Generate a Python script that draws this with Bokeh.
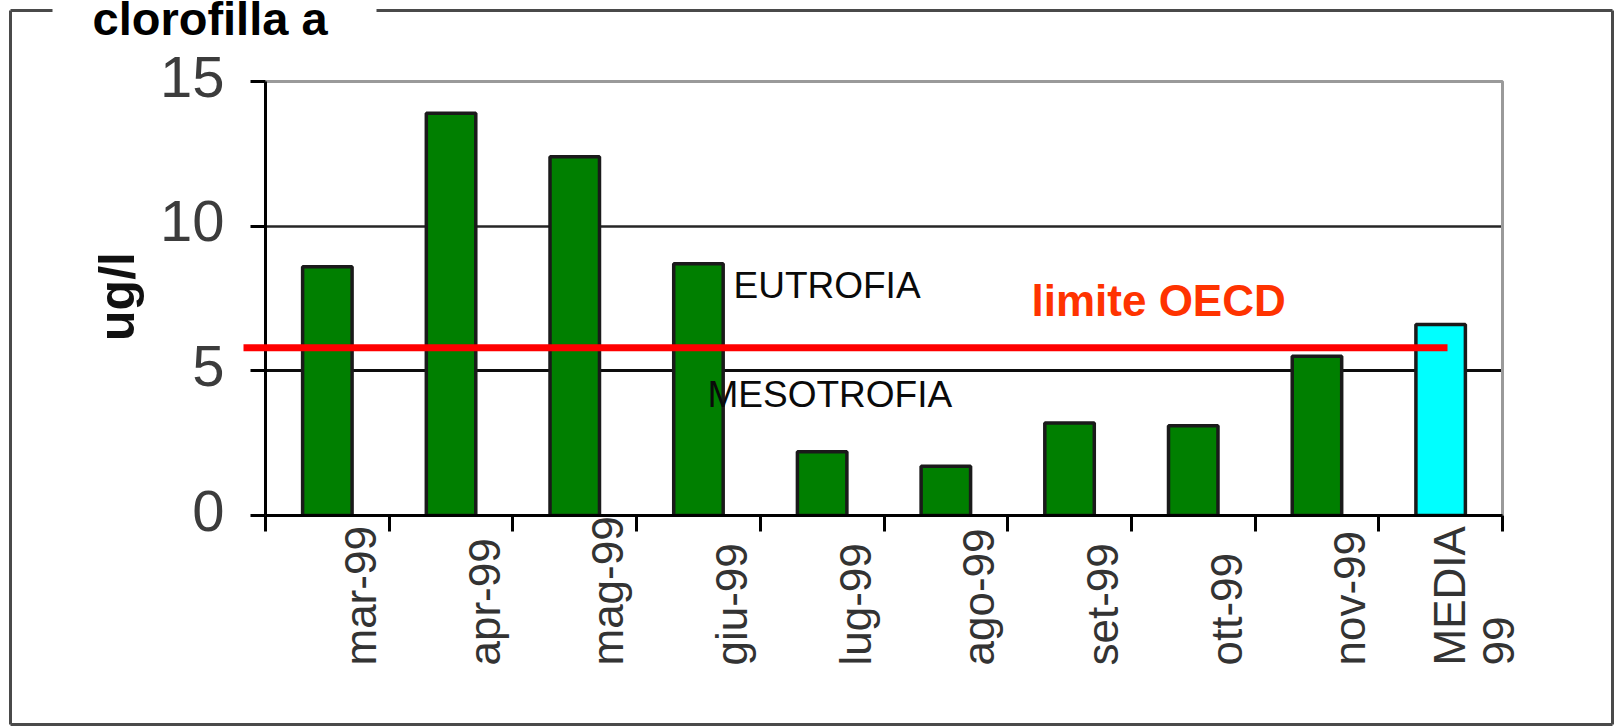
import math

from bokeh.core.properties import value
from bokeh.embed import file_html
from bokeh.models import ColumnDataSource, FixedTicker, Grid, LinearAxis, Range1d
from bokeh.plotting import figure
from bokeh.resources import INLINE

# ---- data -------------------------------------------------------------
categories = ["mar-99", "apr-99", "mag-99", "giu-99", "lug-99",
              "ago-99", "set-99", "ott-99", "nov-99", "MEDIA 99"]
tick_labels = ["mar-99", "apr-99", "mag-99", "giu-99", "lug-99",
               "ago-99", "set-99", "ott-99", "nov-99", "MEDIA\n99"]
chlorophyll = [8.6, 13.9, 12.4, 8.7, 2.2, 1.7, 3.2, 3.1, 5.5, 6.6]
y_ticks = [0, 5, 10, 15]
oecd_limit = 5.8

# ---- layout (canvas pixels) ------------------------------------------
W, H = 1615, 728
FRAME_L, FRAME_R, FRAME_T, FRAME_B = 265, 1502, 81, 515
Y_MAX = 15
N = len(categories)
SLOT_W = (FRAME_R - FRAME_L) / N
PXU = (FRAME_B - FRAME_T) / Y_MAX
FONT = value("Liberation Sans")

# each category occupies one unit slot on the x scale; bars sit mid-slot
slot_centers = [i + 0.5 for i in range(N)]


def sx_to_x(px):
    return (px - FRAME_L) / SLOT_W


def sy_to_y(py):
    return (FRAME_B - py) / PXU


p = figure(width=W, height=H, x_range=Range1d(0, N),
           y_range=Range1d(0, Y_MAX), x_axis_type=None, y_axis_type=None,
           output_backend="svg", toolbar_location=None,
           min_border_left=FRAME_L, min_border_right=W - FRAME_R,
           min_border_top=FRAME_T, min_border_bottom=H - FRAME_B)
p.outline_line_color = None
p.background_fill_color = "white"
p.border_fill_color = "white"

# horizontal grid lines
p.add_layout(Grid(dimension=1, ticker=FixedTicker(ticks=[10]),
                  grid_line_color="#262626", grid_line_width=2.5))
p.add_layout(Grid(dimension=1, ticker=FixedTicker(ticks=[5]),
                  grid_line_color="#0d0d0d", grid_line_width=3))

# light border on the top and right of the plot area
p.line(x=[0, N, N], y=[Y_MAX, Y_MAX, 0], line_color="#9a9a9a",
       line_width=3, level="guide")

# axes: tick marks only, labels drawn separately
yax = LinearAxis(ticker=FixedTicker(ticks=y_ticks),
                 major_label_text_color=None,
                 axis_line_color="black", axis_line_width=3,
                 major_tick_line_color="black", major_tick_line_width=3,
                 major_tick_out=15, major_tick_in=0,
                 minor_tick_line_color=None)
p.add_layout(yax, "left")
xax = LinearAxis(ticker=FixedTicker(ticks=list(range(N + 1))),
                 major_label_text_color=None,
                 axis_line_color="black", axis_line_width=3,
                 major_tick_line_color="black", major_tick_line_width=3,
                 major_tick_out=16, major_tick_in=0,
                 minor_tick_line_color=None)
p.add_layout(xax, "below")

# bars
colors = ["#00FFFF" if c.startswith("MEDIA") else "#007F00" for c in categories]
src = ColumnDataSource(dict(x=slot_centers, cat=categories, val=chlorophyll,
                            color=colors))
p.vbar(x="x", top="val", width=0.4, source=src, fill_color="color",
       line_color="#1a1a1a", line_width=3.5)

# OECD limit line
p.line(x=[sx_to_x(243), sx_to_x(1447)], y=[oecd_limit, oecd_limit],
       line_color="#FF0000", line_width=7, level="annotation")

# outer frame, open at the top where the title sits
fx0, fx1, fy0, fy1 = sx_to_x(10), sx_to_x(1612), sy_to_y(10), sy_to_y(724)
p.segment(x0=[fx0, fx0, fx1, fx0, sx_to_x(376)],
          y0=[fy0, fy1, fy1, fy0, fy0],
          x1=[fx0, fx1, fx1, sx_to_x(52), fx1],
          y1=[fy1, fy1, fy0, fy0, fy0],
          line_color="#4a4a4a", line_width=3, level="guide")

# ---- texts ------------------------------------------------------------
p.text(x=[sx_to_x(92)], y=[sy_to_y(18)], text=["clorofilla a"],
       text_font=FONT, text_font_size="47px", text_font_style="bold",
       text_color="black", text_align="left", text_baseline="middle",
       level="annotation")
p.text(x=[sx_to_x(116)], y=[sy_to_y(296)], text=["ug/l"], angle=math.pi / 2,
       text_font=FONT, text_font_size="50px", text_font_style="bold",
       text_color="#111111", text_align="center", text_baseline="middle",
       level="annotation")

# y tick labels
p.text(x=[sx_to_x(224)] * len(y_ticks), y=[t + 5 / PXU for t in y_ticks],
       text=[str(t) for t in y_ticks], text_font=FONT, text_font_size="58px",
       text_color="#3c3c3c", text_align="right", text_baseline="middle",
       level="annotation")

# category labels, rotated
lab_src = ColumnDataSource(dict(x=slot_centers, lab=tick_labels,
                                y=[sy_to_y(665)] * N))
p.text(x="x", y="y", text="lab", source=lab_src, x_offset=33,
       angle=math.pi / 2, text_font=FONT, text_font_size="44px",
       text_color="#333333", text_align="left", text_baseline="middle",
       text_line_height=1.0, level="annotation")

p.text(x=[sx_to_x(733)], y=[sy_to_y(285)], text=["EUTROFIA"],
       text_font=FONT, text_font_size="37px", text_color="#0a0a0a",
       text_align="left", text_baseline="middle", level="annotation")
p.text(x=[sx_to_x(707)], y=[sy_to_y(394)], text=["MESOTROFIA"],
       text_font=FONT, text_font_size="37px", text_color="#0a0a0a",
       text_align="left", text_baseline="middle", level="annotation")
p.text(x=[sx_to_x(1031)], y=[sy_to_y(300)], text=["limite OECD"],
       text_font=FONT, text_font_size="44px", text_font_style="bold",
       text_color="#FF3300", text_align="left", text_baseline="middle",
       level="annotation")

open("out.html", "w").write(file_html(p, INLINE))
